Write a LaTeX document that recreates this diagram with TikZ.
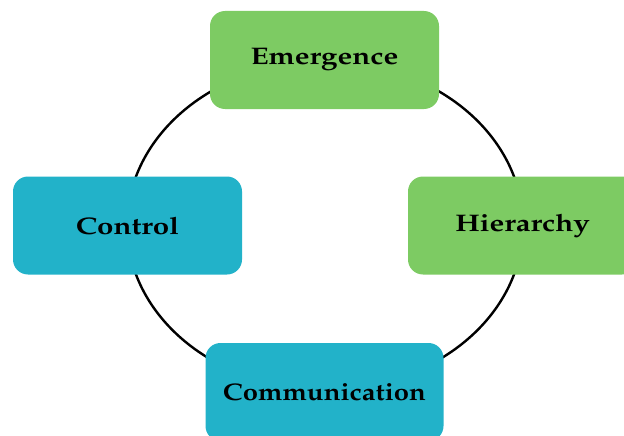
\documentclass[tikz,border=0pt]{standalone}
\usepackage[T1]{fontenc}
\usepackage{mathpazo}
\usepackage{graphicx}
\usetikzlibrary{shapes.geometric}
\definecolor{boxgreen}{HTML}{7DCB63}
\definecolor{boxblue}{HTML}{22B2C9}
\newcommand{\widetxt}[2][1.23]{\scalebox{#1}[1]{#2}}
\begin{document}
\begin{tikzpicture}[x=1pt,y=-1pt,
  box/.style={rounded corners=15pt, minimum width=229pt, minimum height=98pt, inner sep=0pt,
    font=\fontsize{24}{28}\selectfont\bfseries, text=black},
  greenbox/.style={box, fill=boxgreen},
  bluebox/.style={box, fill=boxblue},
  cycle/.style={draw=black, line width=2.4pt, ellipse, inner sep=0pt}]
\useasboundingbox (0,0) rectangle (624,436);
\clip (0,0) rectangle (624,436);
\node[cycle, minimum width=396pt, minimum height=328pt] (cyc) at (325,225.5) {};
\node[greenbox] (em) at (324.5,60) {\widetxt{Emergence}};
\node[greenbox] (hi) at (522.5,225.5) {\widetxt{Hierarchy}};
\node[bluebox] (co) at (127.5,225.5) {\widetxt{Control}};
\node[bluebox, minimum width=238pt] (cm) at (324.5,392) {\widetxt[1.145]{Communication}};
\end{tikzpicture}
\end{document}
